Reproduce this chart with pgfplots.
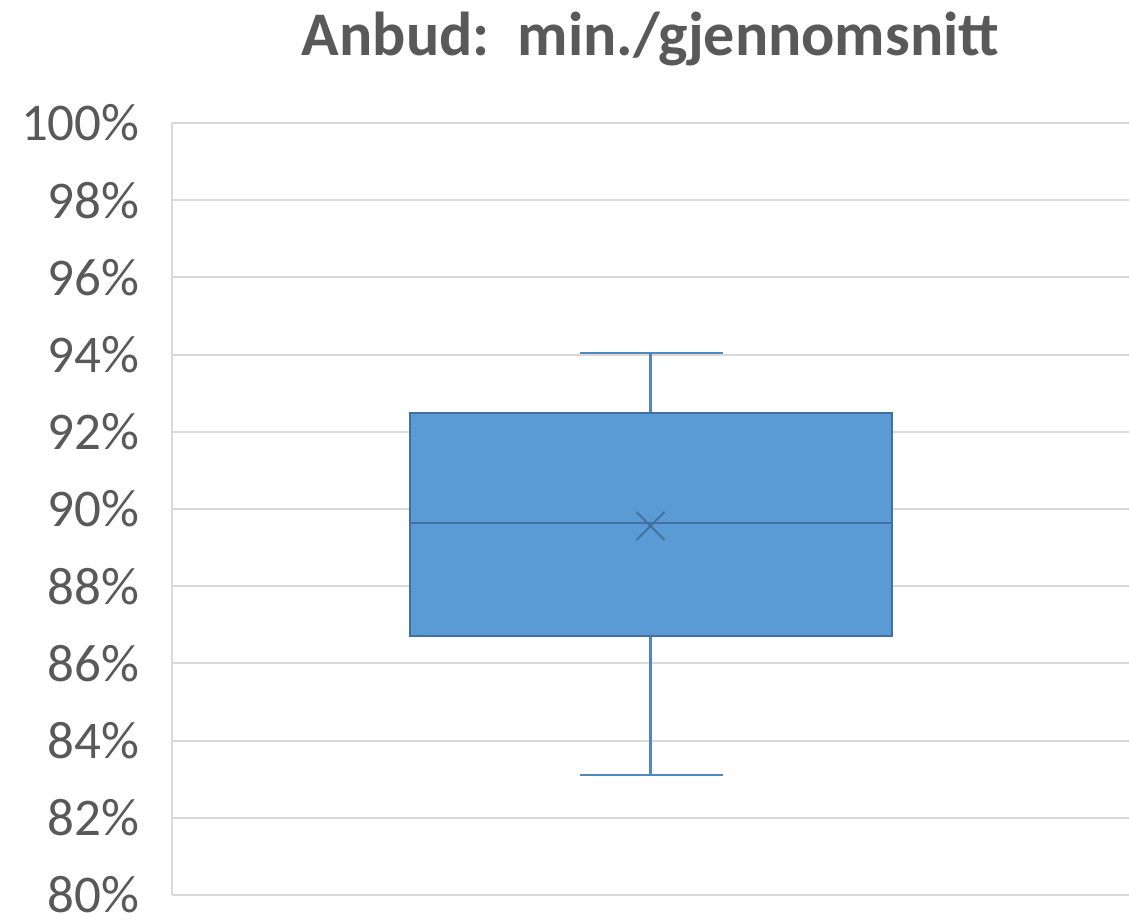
\documentclass[border=0pt]{standalone}
\usepackage{fontspec}
\setmainfont{Carlito}
\usepackage{pgfplots}
\pgfplotsset{compat=1.18}
\definecolor{boxblue}{HTML}{5B9BD5}
\definecolor{boxedge}{HTML}{41719C}
\definecolor{whisk}{HTML}{5088C0}
\definecolor{gridgray}{HTML}{D9D9D9}
\definecolor{textgray}{HTML}{595959}

% box plot values (percent)
% lower whisker, lower quartile, median, upper quartile, upper whisker, mean
% 83.11, 86.71, 89.64, 92.49, 94.04, 89.56

\begin{document}
\begin{tikzpicture}
\useasboundingbox (-86pt,-13pt) rectangle (478.5pt,447.5pt);
\begin{axis}[
  scale only axis,
  width=478.5pt, height=386pt,
  xmin=0, xmax=2, ymin=80, ymax=100,
  xtick=\empty,
  ytick={80,82,...,100},
  yticklabel={\pgfmathprintnumber[fixed,precision=0]{\tick}\%},
  /pgf/number format/assume math mode=true,
  yticklabel style={font=\fontsize{26.5}{30}\selectfont, text=textgray,
    anchor=east, inner sep=0pt, xshift=-16pt},
  major tick length=0pt,
  axis x line=bottom, axis y line=left,
  axis line style={-, draw=gridgray, line width=1pt},
  ymajorgrids,
  grid style={draw=gridgray, line width=1pt},
  title={Anbud:\ \ min./gjennomsnitt},
  title style={font=\fontsize{31}{36}\selectfont\bfseries, text=textgray,
    at={(0.5,1)}, anchor=base, yshift=27.5pt, inner sep=0pt},
]
% whiskers
\addplot[draw=whisk, line width=1.3pt] coordinates {(1,92.49) (1,94.04)};
\addplot[draw=whisk, line width=1.3pt] coordinates {(1,86.71) (1,83.11)};
\addplot[draw=whisk, line width=1.3pt] coordinates {(0.853,94.04) (1.151,94.04)};
\addplot[draw=whisk, line width=1.3pt] coordinates {(0.853,83.11) (1.151,83.11)};
% box
\addplot[draw=boxedge, fill=boxblue, line width=1pt]
  coordinates {(0.497,86.71) (1.505,86.71) (1.505,92.49) (0.497,92.49)} -- cycle;
% median
\addplot[draw=boxedge, line width=1pt] coordinates {(0.497,89.64) (1.505,89.64)};
% mean
\addplot[only marks, mark=x, mark size=9.9pt,
  mark options={draw=boxedge, line width=1pt}] coordinates {(1,89.56)};
\end{axis}
\end{tikzpicture}
\end{document}
